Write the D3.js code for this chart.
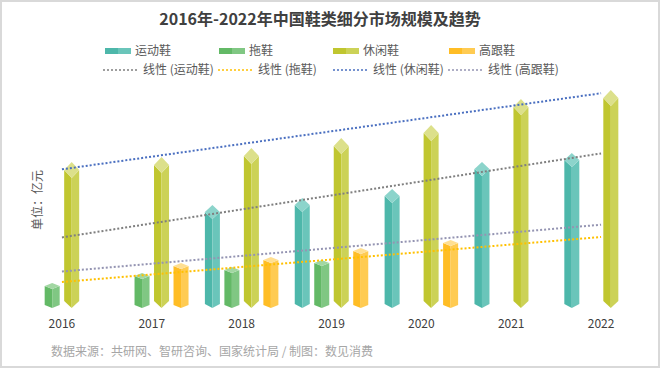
<!DOCTYPE html>
<html>
<head>
<meta charset="utf-8">
<script src="https://cdn.jsdelivr.net/npm/d3@7"></script>
<style>
  body { margin: 0; background: #fff; }
  svg { display: block; font-family: "Noto Sans CJK SC", "Noto Sans", sans-serif; }
</style>
</head>
<body>
<script>
"use strict";

var years = ["2016", "2017", "2018", "2019", "2020", "2021", "2022"];
var seriesNames = ["运动鞋", "拖鞋", "休闲鞋", "高跟鞋"];
// 亿元 (null = no bar that year)
var sportValues = [null, null, 1030, 1100, 1190, 1460, 1550];
var slipperValues = [250, 350, 410, 480, null, null, null];
var casualValues = [1460, 1510, 1600, 1700, 1830, 2090, 2180];
var heelValues = [null, 450, 510, 600, 680, null, null];

var titleText = "2016年-2022年中国鞋类细分市场规模及趋势";
var sourceText = "数据来源：共研网、智研咨询、国家统计局 / 制图：数见消费";

(function () {
  var W = 660, H = 368, base = 308;
  var allValues = [sportValues, slipperValues, casualValues, heelValues];

  // per series look: left face, right face, cap, cap depth, bottom tip, trend colour
  var looks = [
    { left: "#4db7aa", right: "#6ac5ba", cap: "#8cd4cb", capH: 7, tip: 4, trend: "#7f7f7f" },
    { left: "#63b966", right: "#80c783", cap: "#a2d7a3", capH: 3, tip: 3, trend: "#ffc000" },
    { left: "#c0c62f", right: "#ccd257", cap: "#dce08b", capH: 8, tip: 7, trend: "#4a6fc0" },
    { left: "#ffbd25", right: "#ffcb52", cap: "#ffdf92", capH: 3, tip: 3, trend: "#9494b2" }
  ];

  var svg = d3.select("body").append("svg")
    .attr("width", W)
    .attr("height", H);

  svg.append("rect")
    .attr("x", 1).attr("y", 1)
    .attr("width", W - 2).attr("height", H - 2)
    .attr("fill", "#fff")
    .attr("stroke", "#d9d9d9")
    .attr("stroke-width", 2);

  var x0 = d3.scaleBand().domain(years).range([17, 646]).padding(0);
  var x1 = d3.scaleBand().domain(seriesNames).range([-36.75, 36.75])
    .paddingInner(0.23).paddingOuter(0);
  var y = d3.scaleLinear().domain([0, 2500]).range([base, 58]);

  var bw = x1.bandwidth();

  // bars
  var groups = svg.append("g").selectAll("g")
    .data(seriesNames)
    .join("g");

  groups.each(function (name, si) {
    var look = looks[si];
    var pts = years.map(function (yr, i) {
      return { year: yr, v: allValues[si][i] };
    }).filter(function (d) { return d.v !== null; });

    var bar = d3.select(this).selectAll("g")
      .data(pts)
      .join("g")
      .attr("transform", function (d) {
        return "translate(" + (x0(d.year) + x0.bandwidth() / 2 + x1(name) + bw / 2) + ",0)";
      });

    var h = bw / 2, c = look.capH, t = look.tip;
    bar.append("polygon")
      .attr("fill", look.left)
      .attr("points", function (d) {
        var top = y(d.v);
        return [[-h, top + c], [0, top + 2 * c], [0, base], [-h, base - t]].join(" ");
      });
    bar.append("polygon")
      .attr("fill", look.right)
      .attr("points", function (d) {
        var top = y(d.v);
        return [[0, top + 2 * c], [h, top + c], [h, base - t], [0, base]].join(" ");
      });
    bar.append("polygon")
      .attr("fill", look.cap)
      .attr("points", function (d) {
        var top = y(d.v);
        return [[0, top], [h, top + c], [0, top + 2 * c], [-h, top + c]].join(" ");
      });
  });

  // linear trend lines (least squares on category index)
  var firstX = x0(years[0]) + x0.bandwidth() / 2;
  var lastX = x0(years[years.length - 1]) + x0.bandwidth() / 2;
  allValues.forEach(function (vals, si) {
    var pts = [];
    vals.forEach(function (v, i) { if (v !== null) { pts.push([i, v]); } });
    var mx = d3.mean(pts, function (p) { return p[0]; });
    var my = d3.mean(pts, function (p) { return p[1]; });
    var sxy = d3.sum(pts, function (p) { return (p[0] - mx) * (p[1] - my); });
    var sxx = d3.sum(pts, function (p) { return (p[0] - mx) * (p[0] - mx); });
    var b = sxy / sxx, a = my - b * mx;
    svg.append("line")
      .attr("x1", firstX).attr("y1", y(a))
      .attr("x2", lastX).attr("y2", y(a + b * (years.length - 1)))
      .attr("stroke", looks[si].trend)
      .attr("stroke-width", 2)
      .attr("stroke-dasharray", "2,2");
  });

  // x axis labels
  svg.append("g").selectAll("text")
    .data(years)
    .join("text")
    .attr("x", function (d) { return x0(d) + x0.bandwidth() / 2; })
    .attr("y", 328)
    .attr("text-anchor", "middle")
    .attr("font-size", 12)
    .attr("fill", "#404040")
    .text(function (d) { return d; });

  // title
  svg.append("text")
    .attr("x", 320).attr("y", 25)
    .attr("text-anchor", "middle")
    .attr("font-size", 16)
    .attr("font-weight", "bold")
    .attr("fill", "#404040")
    .text(titleText);

  // y unit label
  svg.append("text")
    .attr("transform", "translate(42,200) rotate(-90)")
    .attr("text-anchor", "middle")
    .attr("font-size", 12)
    .attr("fill", "#595959")
    .text("单位：亿元");

  // legend row 1: swatches
  var swX = [105, 219, 333, 449];
  var leg1 = svg.append("g").selectAll("g")
    .data(seriesNames)
    .join("g")
    .attr("transform", function (d, i) { return "translate(" + swX[i] + ",48)"; });
  leg1.append("rect").attr("width", 13).attr("height", 6)
    .attr("fill", function (d, i) { return looks[i].left; });
  leg1.append("rect").attr("x", 13).attr("width", 13).attr("height", 6)
    .attr("fill", function (d, i) { return looks[i].right; });
  leg1.append("text")
    .attr("x", 30).attr("y", 7)
    .attr("font-size", 12)
    .attr("fill", "#595959")
    .text(function (d) { return d; });

  // legend row 2: trend lines
  var lnX = [103, 218, 333, 448];
  var leg2 = svg.append("g").selectAll("g")
    .data(seriesNames)
    .join("g")
    .attr("transform", function (d, i) { return "translate(" + lnX[i] + ",70)"; });
  leg2.append("line")
    .attr("x1", 0).attr("x2", 35).attr("y1", 0).attr("y2", 0)
    .attr("stroke", function (d, i) { return looks[i].trend; })
    .attr("stroke-width", 1.5)
    .attr("stroke-dasharray", "2,2");
  leg2.append("text")
    .attr("x", 40).attr("y", 4)
    .attr("font-size", 12)
    .attr("fill", "#595959")
    .text(function (d) { return "线性 (" + d + ")"; });

  // source
  svg.append("text")
    .attr("x", 51).attr("y", 356)
    .attr("font-size", 12)
    .attr("fill", "#a6a6a6")
    .text(sourceText);
}());
</script>
</body>
</html>
